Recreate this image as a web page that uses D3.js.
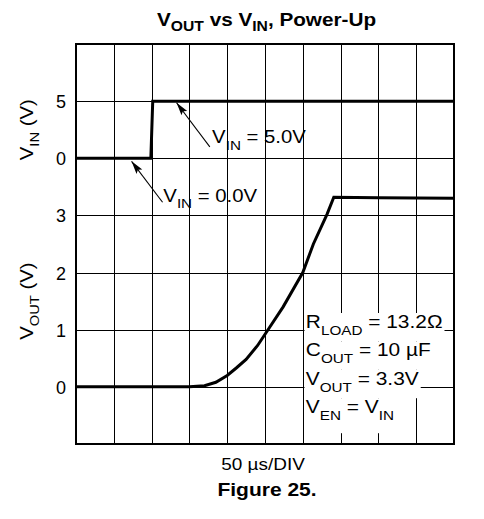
<!DOCTYPE html>
<html>
<head>
<meta charset="utf-8">
<script src="https://cdn.jsdelivr.net/npm/d3@7"></script>
<style>
  body { margin: 0; background: #fff; }
  svg { display: block; font-family: "Liberation Sans", Arial, sans-serif; }
</style>
</head>
<body>
<svg id="chart" width="484" height="519"></svg>
<script>
// time axis: 50 us per division, 10 divisions
var timeTicks = [0, 50, 100, 150, 200, 250, 300, 350, 400, 450, 500];
var vinTicks = [0, 5];
var voutTicks = [0, 1, 2, 3];

// V_IN trace (us, V)
var vinTime = [0, 99, 101.5, 500];
var vinVolts = [0, 0, 5, 5];

// V_OUT trace (us, V)
var voutTime = [0, 150, 170, 185, 200, 212, 225, 240, 254, 274, 300, 314, 332, 341, 400, 500];
var voutVolts = [0, 0, 0.02, 0.08, 0.2, 0.33, 0.48, 0.72, 1.0, 1.4, 2.0, 2.5, 3.02, 3.32, 3.31, 3.3];

var boxLines = [
    [["R"], ["LOAD", 1], [" = 13.2\u03A9"]],
    [["C"], ["OUT", 1], [" = 10 \u00B5F"]],
    [["V"], ["OUT", 1], [" = 3.3V"]],
    [["V"], ["EN", 1], [" = V"], ["IN", 1]]
];

var SX = 1.13; // the original artwork is a bit wider than tall

var svg = d3.select("#chart");
var plotL = 76, plotR = 454, plotT = 44, plotB = 444;

var x = d3.scaleLinear().domain([0, 500]).range([plotL, plotR]);
var yDiv = d3.scaleLinear().domain([0, 7]).range([plotT, plotB]);
var yIn = d3.scaleLinear().domain([0, 5]).range([yDiv(2), yDiv(1)]);
var yOut = d3.scaleLinear().domain([0, 3]).range([yDiv(6), yDiv(3)]);

function crisp(v) { return Math.round(v) + 0.5; }

// text with subscripts, squeezed/stretched horizontally
function label(parent, px, py, parts, o) {
    var tr = "translate(" + px + "," + py + ")";
    if (o.rotate) tr += " rotate(" + o.rotate + ")";
    tr += " scale(" + (o.sx || SX) + ",1)";
    var g = parent.append("g").attr("transform", tr);
    var t = g.append("text")
        .attr("font-size", o.size)
        .attr("font-weight", o.bold ? "bold" : null)
        .attr("text-anchor", o.anchor || "start")
        .attr("fill", "#000");
    var shift = 0;
    parts.forEach(function(p) {
        var ts = t.append("tspan").text(p[0]);
        var want = p[1] ? o.subDy : 0;
        if (want !== shift) { ts.attr("dy", want - shift); shift = want; }
        if (p[1]) ts.attr("font-size", o.subSize);
    });
    return { g: g, t: t };
}

// grid
var grid = svg.append("g");
grid.selectAll("line.v").data(timeTicks).enter().append("line")
    .attr("x1", function(d) { return crisp(x(d)); })
    .attr("x2", function(d) { return crisp(x(d)); })
    .attr("y1", plotT).attr("y2", plotB)
    .attr("stroke", "#000").attr("stroke-width", 1);
grid.selectAll("line.h").data(d3.range(8)).enter().append("line")
    .attr("x1", plotL).attr("x2", plotR)
    .attr("y1", function(d) { return crisp(yDiv(d)); })
    .attr("y2", function(d) { return crisp(yDiv(d)); })
    .attr("stroke", "#000").attr("stroke-width", 1);

// axes (labels only)
var axIn = svg.append("g").attr("transform", "translate(" + (plotL - 10) + ",0)")
    .call(d3.axisLeft(yIn).tickValues(vinTicks).tickFormat(d3.format("d")).tickSize(0).tickPadding(0));
var axOut = svg.append("g").attr("transform", "translate(" + (plotL - 10) + ",0)")
    .call(d3.axisLeft(yOut).tickValues(voutTicks).tickFormat(d3.format("d")).tickSize(0).tickPadding(0));
[axIn, axOut].forEach(function(a) {
    a.select(".domain").remove();
    a.selectAll("text")
        .attr("font-family", "'Liberation Sans', Arial, sans-serif")
        .attr("font-size", 18).attr("fill", "#000").attr("dy", "0.36em");
});

// traces
var line = d3.line()
    .x(function(d) { return x(d[0]); })
    .y(function(d) { return d[2](d[1]); });

var vinData = vinTime.map(function(t, i) { return [t, vinVolts[i], yIn]; });
var voutData = voutTime.map(function(t, i) { return [t, voutVolts[i], yOut]; });

svg.append("path").attr("d", line(vinData))
    .attr("fill", "none").attr("stroke", "#000").attr("stroke-width", 3);
svg.append("path").attr("d", line(voutData))
    .attr("fill", "none").attr("stroke", "#000").attr("stroke-width", 3);

// arrows with labels (positions in us / V_IN units)
var arrows = [
    { tip: [133, 4.86], tail: [177, 1.0], text: [180, 1.3], name: " = 5.0V" },
    { tip: [73.5, -0.27], tail: [114.5, -3.85], text: [115.5, -3.79], name: " = 0.0V" }
];
arrows.forEach(function(a) {
    var x1 = x(a.tail[0]), y1 = yIn(a.tail[1]);
    var x2 = x(a.tip[0]), y2 = yIn(a.tip[1]);
    svg.append("line")
        .attr("x1", x1).attr("y1", y1).attr("x2", x2).attr("y2", y2)
        .attr("stroke", "#000").attr("stroke-width", 1.1);
    var ang = Math.atan2(y2 - y1, x2 - x1) * 180 / Math.PI;
    svg.append("path")
        .attr("d", "M0,0L-13,-3.6L-10.5,0L-13,3.6Z")
        .attr("transform", "translate(" + x2 + "," + y2 + ") rotate(" + ang + ")")
        .attr("fill", "#000");
    label(svg, x(a.text[0]), yIn(a.text[1]), [["V"], ["IN", 1], [a.name]],
        { size: 18, subSize: 13.5, subDy: 6.5 });
});

// condition box
var rowX = x(304), rowTop = yOut(1.03), rowStep = 28.4;
boxLines.forEach(function(parts, i) {
    var by = rowTop + i * rowStep;
    var lb = label(svg, rowX, by, parts, { size: 18.5, subSize: 13.5, subDy: 7 });
    var w = lb.t.node().getComputedTextLength() * SX;
    var h = (i === boxLines.length - 1) ? 35 : rowStep;
    svg.insert("rect", function() { return lb.g.node(); })
        .attr("x", crisp(x(300)) + 1)
        .attr("y", by - 15)
        .attr("width", rowX - crisp(x(300)) - 1 + w + 2)
        .attr("height", h)
        .attr("fill", "#fff");
});

// frame
svg.append("rect")
    .attr("x", plotL).attr("y", plotT)
    .attr("width", plotR - plotL).attr("height", plotB - plotT)
    .attr("fill", "none").attr("stroke", "#000").attr("stroke-width", 2);

// titles
label(svg, 266.5, 26.3, [["V"], ["OUT", 1], [" vs V"], ["IN", 1], [", Power-Up"]],
    { size: 18.5, subSize: 14, subDy: 4.5, bold: true, anchor: "middle", sx: 1.12 });
label(svg, 33, (yIn(0) + yIn(5)) / 2, [["V"], ["IN", 1], [" (V)"]],
    { size: 18, subSize: 13, subDy: 6, anchor: "middle", rotate: -90 });
label(svg, 33, (yOut(0) + yOut(3)) / 2, [["V"], ["OUT", 1], [" (V)"]],
    { size: 18, subSize: 13, subDy: 6, anchor: "middle", rotate: -90 });
label(svg, 263, 470, [["50 \u00B5s/DIV"]], { size: 16.5, anchor: "middle", sx: 1.15 });
label(svg, 267, 496, [["Figure 25."]], { size: 17.5, bold: true, anchor: "middle", sx: 1.2 });
</script>
</body>
</html>
